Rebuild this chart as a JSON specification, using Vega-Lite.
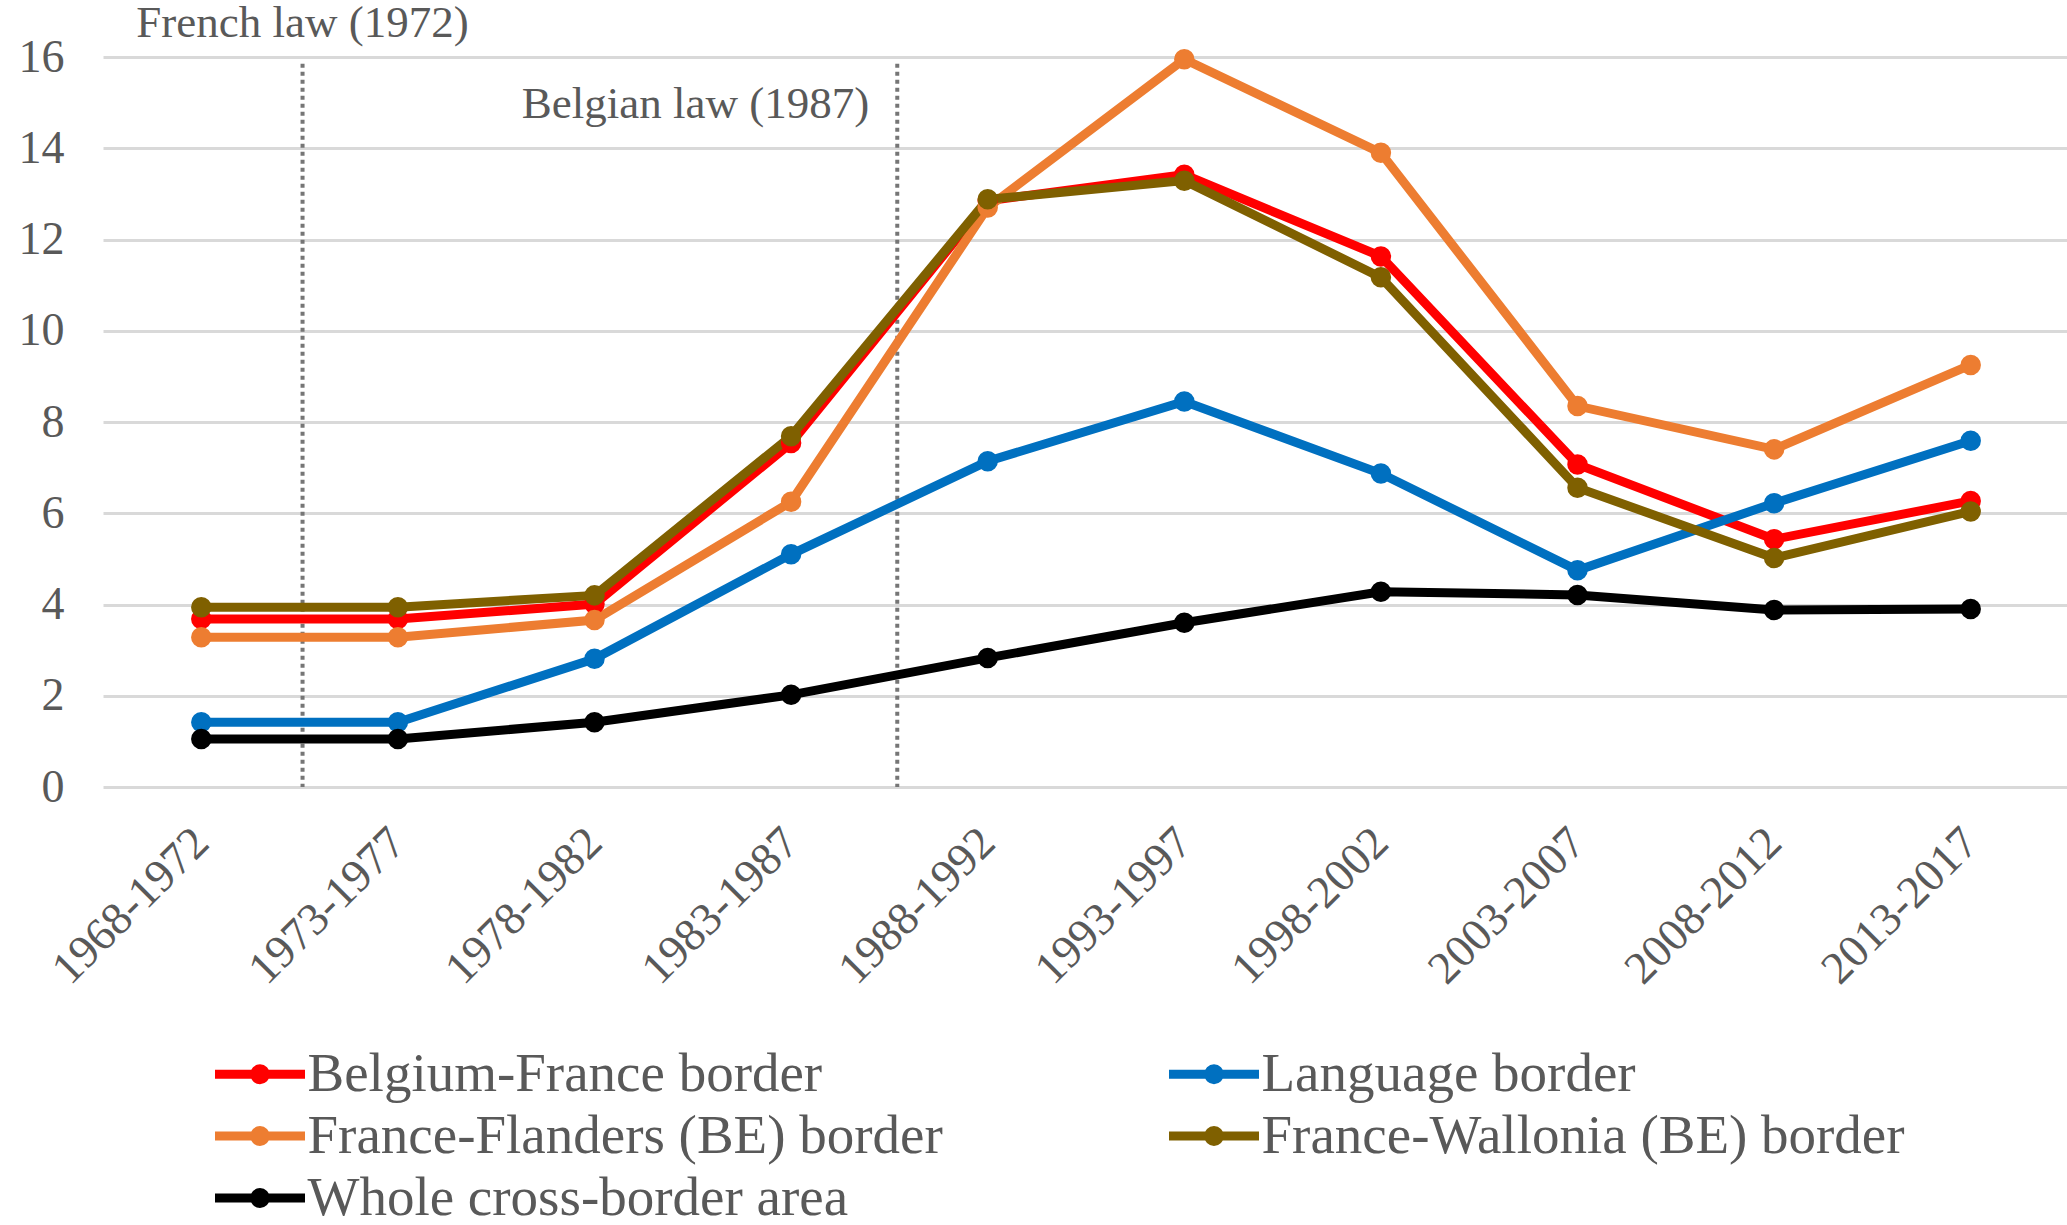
{
  "$schema": "https://vega.github.io/schema/vega-lite/v6.json",
  "width": 1966,
  "height": 730,
  "autosize": {"type": "none"},
  "padding": {"left": 103, "top": 57, "right": 0, "bottom": 438},
  "background": "white",
  "config": {"view": {"stroke": null}, "font": "Liberation Serif"},
  "datasets": {
    "series": [
      {"period": "1968-1972", "series": "Belgium-France border", "value": 3.68},
      {"period": "1973-1977", "series": "Belgium-France border", "value": 3.68},
      {"period": "1978-1982", "series": "Belgium-France border", "value": 4.01},
      {"period": "1983-1987", "series": "Belgium-France border", "value": 7.54},
      {"period": "1988-1992", "series": "Belgium-France border", "value": 12.85},
      {"period": "1993-1997", "series": "Belgium-France border", "value": 13.42},
      {"period": "1998-2002", "series": "Belgium-France border", "value": 11.63},
      {"period": "2003-2007", "series": "Belgium-France border", "value": 7.07},
      {"period": "2008-2012", "series": "Belgium-France border", "value": 5.43},
      {"period": "2013-2017", "series": "Belgium-France border", "value": 6.27},
      {"period": "1968-1972", "series": "Language border", "value": 1.42},
      {"period": "1973-1977", "series": "Language border", "value": 1.42},
      {"period": "1978-1982", "series": "Language border", "value": 2.81},
      {"period": "1983-1987", "series": "Language border", "value": 5.10},
      {"period": "1988-1992", "series": "Language border", "value": 7.14},
      {"period": "1993-1997", "series": "Language border", "value": 8.45},
      {"period": "1998-2002", "series": "Language border", "value": 6.87},
      {"period": "2003-2007", "series": "Language border", "value": 4.75},
      {"period": "2008-2012", "series": "Language border", "value": 6.22},
      {"period": "2013-2017", "series": "Language border", "value": 7.59},
      {"period": "1968-1972", "series": "France-Flanders (BE) border", "value": 3.28},
      {"period": "1973-1977", "series": "France-Flanders (BE) border", "value": 3.28},
      {"period": "1978-1982", "series": "France-Flanders (BE) border", "value": 3.66},
      {"period": "1983-1987", "series": "France-Flanders (BE) border", "value": 6.25},
      {"period": "1988-1992", "series": "France-Flanders (BE) border", "value": 12.70},
      {"period": "1993-1997", "series": "France-Flanders (BE) border", "value": 15.95},
      {"period": "1998-2002", "series": "France-Flanders (BE) border", "value": 13.90},
      {"period": "2003-2007", "series": "France-Flanders (BE) border", "value": 8.35},
      {"period": "2008-2012", "series": "France-Flanders (BE) border", "value": 7.40},
      {"period": "2013-2017", "series": "France-Flanders (BE) border", "value": 9.25},
      {"period": "1968-1972", "series": "France-Wallonia (BE) border", "value": 3.94},
      {"period": "1973-1977", "series": "France-Wallonia (BE) border", "value": 3.94},
      {"period": "1978-1982", "series": "France-Wallonia (BE) border", "value": 4.20},
      {"period": "1983-1987", "series": "France-Wallonia (BE) border", "value": 7.69},
      {"period": "1988-1992", "series": "France-Wallonia (BE) border", "value": 12.88},
      {"period": "1993-1997", "series": "France-Wallonia (BE) border", "value": 13.29},
      {"period": "1998-2002", "series": "France-Wallonia (BE) border", "value": 11.17},
      {"period": "2003-2007", "series": "France-Wallonia (BE) border", "value": 6.56},
      {"period": "2008-2012", "series": "France-Wallonia (BE) border", "value": 5.02},
      {"period": "2013-2017", "series": "France-Wallonia (BE) border", "value": 6.04},
      {"period": "1968-1972", "series": "Whole cross-border area", "value": 1.05},
      {"period": "1973-1977", "series": "Whole cross-border area", "value": 1.05},
      {"period": "1978-1982", "series": "Whole cross-border area", "value": 1.42},
      {"period": "1983-1987", "series": "Whole cross-border area", "value": 2.02},
      {"period": "1988-1992", "series": "Whole cross-border area", "value": 2.83},
      {"period": "1993-1997", "series": "Whole cross-border area", "value": 3.60},
      {"period": "1998-2002", "series": "Whole cross-border area", "value": 4.28},
      {"period": "2003-2007", "series": "Whole cross-border area", "value": 4.21},
      {"period": "2008-2012", "series": "Whole cross-border area", "value": 3.88},
      {"period": "2013-2017", "series": "Whole cross-border area", "value": 3.90}
    ],
    "laws": [
      {"period": "1968-1972", "label": "French law (1972)", "top": 15.85, "bottom": 0, "ty": 16.44},
      {"period": "1983-1987", "label": "Belgian law (1987)", "top": 15.85, "bottom": 0, "ty": 14.66}
    ]
  },
  "layer": [
    {
      "data": {"name": "laws"},
      "transform": [{"filter": "datum.label == 'French law (1972)'"}],
      "mark": {"type": "rule", "color": "#767676", "strokeWidth": 4, "strokeDash": [4, 4]},
      "encoding": {
        "x": {"field": "period", "type": "ordinal", "bandPosition": 1.015,
              "scale": {"domain": ["1968-1972","1973-1977","1978-1982","1983-1987","1988-1992","1993-1997","1998-2002","2003-2007","2008-2012","2013-2017"], "paddingInner": 0, "paddingOuter": 0}},
        "y": {"field": "top", "type": "quantitative"},
        "y2": {"field": "bottom"}
      }
    },
    {
      "data": {"name": "laws"},
      "transform": [{"filter": "datum.label == 'Belgian law (1987)'"}],
      "mark": {"type": "rule", "color": "#767676", "strokeWidth": 4, "strokeDash": [4, 4]},
      "encoding": {
        "x": {"field": "period", "type": "ordinal", "bandPosition": 1.04},
        "y": {"field": "top", "type": "quantitative"},
        "y2": {"field": "bottom"}
      }
    },
    {
      "data": {"name": "laws"},
      "transform": [{"filter": "datum.label == 'French law (1972)'"}],
      "mark": {"type": "text", "align": "center", "baseline": "alphabetic", "font": "Liberation Serif", "fontSize": 45, "color": "#595959"},
      "encoding": {
        "x": {"field": "period", "type": "ordinal", "bandPosition": 1.015},
        "y": {"field": "ty", "type": "quantitative"},
        "text": {"field": "label"}
      }
    },
    {
      "data": {"name": "laws"},
      "transform": [{"filter": "datum.label == 'Belgian law (1987)'"}],
      "mark": {"type": "text", "align": "right", "baseline": "alphabetic", "dx": -28, "font": "Liberation Serif", "fontSize": 45, "color": "#595959"},
      "encoding": {
        "x": {"field": "period", "type": "ordinal", "bandPosition": 1.04},
        "y": {"field": "ty", "type": "quantitative"},
        "text": {"field": "label"}
      }
    },
    {
      "data": {"name": "series"},
      "mark": {"type": "line", "point": {"filled": true, "size": 420}},
      "encoding": {
        "x": {"field": "period", "type": "ordinal", "title": null,
              "axis": {"labelAngle": -45, "labelLimit": 0, "labelFont": "Liberation Serif", "labelFontSize": 46, "labelColor": "#595959", "labelPadding": 48, "domain": false, "ticks": false, "grid": false}},
        "y": {"field": "value", "type": "quantitative", "title": null,
              "scale": {"domain": [0, 16], "nice": false},
              "axis": {"values": [0, 2, 4, 6, 8, 10, 12, 14, 16], "labelFont": "Liberation Serif", "labelFontSize": 46, "labelColor": "#595959", "labelPadding": 39, "domain": false, "ticks": false, "grid": true, "gridColor": "#d9d9d9", "gridWidth": 3}},
        "strokeWidth": {"field": "series", "type": "nominal", "legend": null,
                        "scale": {"domain": ["Belgium-France border", "Language border", "France-Flanders (BE) border", "France-Wallonia (BE) border", "Whole cross-border area"],
                                  "range": [9, 9, 7, 9, 8]}},
        "color": {"field": "series", "type": "nominal",
                  "scale": {"domain": ["Belgium-France border", "Language border", "France-Flanders (BE) border", "France-Wallonia (BE) border", "Whole cross-border area"],
                            "range": ["#ff0000", "#0070c0", "#ed7d31", "#7f6000", "#000000"]},
                  "legend": {"orient": "none", "direction": "horizontal", "legendX": 129.5, "legendY": 989.5, "columns": 2, "title": null, "padding": 0,
                             "symbolType": "M-2,0H2M0,-0.24A0.24,0.24,0,1,1,0,0.24A0.24,0.24,0,1,1,0,-0.24",
                             "symbolSize": 2025, "symbolStrokeWidth": 10, "labelLimit": 0,
                             "labelFont": "Liberation Serif", "labelFontSize": 55, "labelColor": "#595959", "labelOffset": 20,
                             "columnPadding": 207, "rowPadding": 6}}
      }
    }
  ]
}
